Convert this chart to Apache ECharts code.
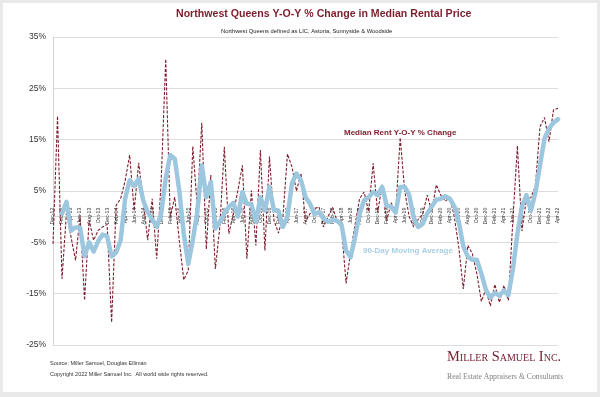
<!DOCTYPE html>
<html>
<head>
<meta charset="utf-8">
<script src="https://cdn.jsdelivr.net/npm/echarts@6/dist/echarts.min.js"></script>
<style>
  html, body { margin: 0; padding: 0; background: #e9e9e9; }
  .card { position: absolute; left: 3px; top: 3px; width: 594px; height: 389px; background: #fff; }
  #chart { position: absolute; left: 0; top: 0; width: 600px; height: 397px; }
</style>
</head>
<body>
<div class="card"></div>
<div id="chart"></div>
<script>
const months = [
  'Dec-12',
  'Jan-13','Feb-13','Mar-13','Apr-13','May-13','Jun-13','Jul-13','Aug-13','Sep-13','Oct-13','Nov-13','Dec-13',
  'Jan-14','Feb-14','Mar-14','Apr-14','May-14','Jun-14','Jul-14','Aug-14','Sep-14','Oct-14','Nov-14','Dec-14',
  'Jan-15','Feb-15','Mar-15','Apr-15','May-15','Jun-15','Jul-15','Aug-15','Sep-15','Oct-15','Nov-15','Dec-15',
  'Jan-16','Feb-16','Mar-16','Apr-16','May-16','Jun-16','Jul-16','Aug-16','Sep-16','Oct-16','Nov-16','Dec-16',
  'Jan-17','Feb-17','Mar-17','Apr-17','May-17','Jun-17','Jul-17','Aug-17','Sep-17','Oct-17','Nov-17','Dec-17',
  'Jan-18','Feb-18','Mar-18','Apr-18','May-18','Jun-18','Jul-18','Aug-18','Sep-18','Oct-18','Nov-18','Dec-18',
  'Jan-19','Feb-19','Mar-19','Apr-19','May-19','Jun-19','Jul-19','Aug-19','Sep-19','Oct-19','Nov-19','Dec-19',
  'Jan-20','Feb-20','Mar-20','Apr-20','May-20','Jun-20','Jul-20','Aug-20','Sep-20','Oct-20','Nov-20','Dec-20',
  'Jan-21','Feb-21','Mar-21','Apr-21','May-21','Jun-21','Jul-21','Aug-21','Sep-21','Oct-21','Nov-21','Dec-21',
  'Jan-22','Feb-22','Mar-22','Apr-22'
]

// Median Rent Y-O-Y % Change (monthly)
const yoyChange = [
  -5.3,
  19.6, -12.1, 1.0, -4.0, -8.5, 0.2, -16.3, -0.7, -4.6, -2.7, -2.0, -1.5,
  -20.6, 2.2, 3.5, 7.0, 12.0, 1.2, 10.5, 3.2, -4.6, 3.5, -8.2, 7.1,
  30.7, -0.1, 3.8, -4.6, -12.3, -10.5, 13.7, 1.9, 18.3, -6.3, 8.1, -10.2,
  -2.0, 13.6, -3.3, 0.6, 5.1, 10.0, -8.2, 5.1, -5.6, 13.0, -6.6, 11.7,
  -0.7, -3.2, 0.0, 12.2, 9.7, 5.0, 8.4, -1.0, 0.6, 1.6, 1.9, -2.0,
  0.0, 1.8, -0.8, -2.2, -13.0, -7.0, -1.5, 3.5, 4.8, 1.0, 10.4, 0.8,
  6.2, -0.8, 2.7, 0.8, 15.4, 5.0, 0.0, -2.0, -0.5, 0.5, 4.2, 1.0,
  6.2, 4.2, 3.0, 3.8, 0.0, -6.0, -14.1, -5.6, -7.2, -11.1, -16.5, -14.2,
  -17.4, -13.2, -16.7, -13.4, -16.3, -0.5, 13.8, -2.8, 3.5, 3.7, 6.0, 17.5,
  19.3, 14.6, 20.8, 21.1
]

// 90-Day Moving Average
const movingAvg = [
  null,
  null, 0.6, 2.9, -2.7, -2.1, -2.1, -7.7, -5.0, -6.8, -4.8, -3.5, -3.8,
  -7.7, -7.0, -4.6, 3.5, 7.1, 6.0, 7.4, 3.2, 0.9, -0.5, -2.0, 0.6,
  7.5, 12.0, 11.3, 5.1, -3.3, -9.2, -4.6, 0.9, 10.0, 3.8, 6.8, -2.3,
  -1.0, 0.6, 1.9, 2.7, 0.0, 4.8, 2.5, 2.4, -1.0, 3.8, 1.2, 5.8,
  1.2, 1.2, -2.0, 0.0, 6.5, 8.4, 7.1, 3.8, 2.5, 0.5, 0.9, -0.4,
  -1.0, -0.6, -0.8, -1.6, -6.6, -7.9, -4.0, 0.6, 3.2, 3.8, 4.8, 4.2,
  5.8, 2.2, 1.9, 0.8, 5.8, 5.8, 4.2, -0.2, -2.0, -1.4, 0.6, 2.0,
  3.3, 3.5, 4.0, 3.5, 2.0, -1.0, -5.8, -7.8, -8.4, -8.4, -11.1, -14.2,
  -15.8, -14.8, -15.4, -14.4, -15.3, -10.2, -3.3, 2.0, 4.2, 1.2, 4.7, 10.0,
  15.2, 17.2, 18.3, 19.0
]

const font = '"Liberation Sans", Arial, sans-serif'
const serif = '"Liberation Serif", "Times New Roman", serif'
const darkRed = '#7d1c2c'
const lightBlue = '#9dc7df'

// plot box; the month axis sits on the 0% line
const gridTop = 37
const gridBottom = 52
const plotHeight = 397 - gridTop - gridBottom
const zeroOffset = -(plotHeight * 25 / 60)

const chart = echarts.init(document.getElementById('chart'))

chart.setOption({
  animation: false,
  title: [
    {
      text: 'Northwest Queens Y-O-Y % Change in Median Rental Price',
      left: 176,
      top: 9,
      padding: 0,
      textStyle: { fontFamily: font, fontSize: 10.6, fontWeight: 'bold', color: darkRed }
    },
    {
      text: 'Northwest Queens defined as LIC, Astoria, Sunnyside & Woodside',
      left: 221,
      top: 28,
      padding: 0,
      textStyle: { fontFamily: font, fontSize: 5.8, fontWeight: 'normal', color: '#222' }
    }
  ],
  grid: { left: 53, right: 42, top: gridTop, bottom: gridBottom },
  xAxis: {
    type: 'category',
    data: months,
    boundaryGap: false,
    position: 'bottom',
    offset: zeroOffset,
    axisLine: { onZero: false, lineStyle: { color: '#d4d4d4', width: 1 } },
    axisTick: { show: false },
    axisLabel: {
      interval: 1,
      rotate: 90,
      margin: -9,
      fontFamily: font,
      fontSize: 5.2,
      color: '#333'
    },
    splitLine: { show: false }
  },
  yAxis: {
    type: 'value',
    min: -25,
    max: 35,
    interval: 10,
    axisLine: { show: true, lineStyle: { color: '#d4d4d4' } },
    axisTick: { show: false },
    axisLabel: {
      formatter: '{value}%',
      margin: 7,
      fontFamily: font,
      fontSize: 8.5,
      color: '#333'
    },
    splitLine: { lineStyle: { color: '#dcdcdc', width: 1 } }
  },
  series: [
    {
      name: 'Median Rent Y-O-Y % Change',
      type: 'line',
      data: yoyChange,
      symbol: 'none',
      z: 2,
      lineStyle: { color: darkRed, width: 1.1, type: [3, 1.6] }
    },
    {
      name: '90-Day Moving Average',
      type: 'line',
      data: movingAvg,
      symbol: 'none',
      z: 3,
      lineStyle: { color: lightBlue, width: 4.5, join: 'round', cap: 'round' }
    }
  ],
  graphic: [
    {
      type: 'text', left: 344, top: 129,
      style: { text: 'Median Rent Y-O-Y % Change', fill: darkRed, font: 'bold 8px ' + font }
    },
    {
      type: 'text', left: 363, top: 247,
      style: { text: '90-Day Moving Average', fill: '#a9cfe4', font: 'bold 8px ' + font }
    },
    {
      type: 'text', left: 50, top: 360,
      style: { text: 'Source: Miller Samuel, Douglas Elliman', fill: '#333', font: '5.5px ' + font }
    },
    {
      type: 'text', left: 50, top: 371,
      style: { text: 'Copyright 2022 Miller Samuel Inc.  All world wide rights reserved.', fill: '#333', font: '5.5px ' + font }
    },
    {
      type: 'text', left: 447, top: 350,
      style: { text: 'Miller Samuel Inc.', fill: '#7a2030', font: 'small-caps 14.4px ' + serif }
    },
    {
      type: 'text', left: 447, top: 373,
      style: { text: 'Real Estate Appraisers & Consultants', fill: '#808080', font: '7.7px ' + serif }
    }
  ]
})
</script>
</body>
</html>
